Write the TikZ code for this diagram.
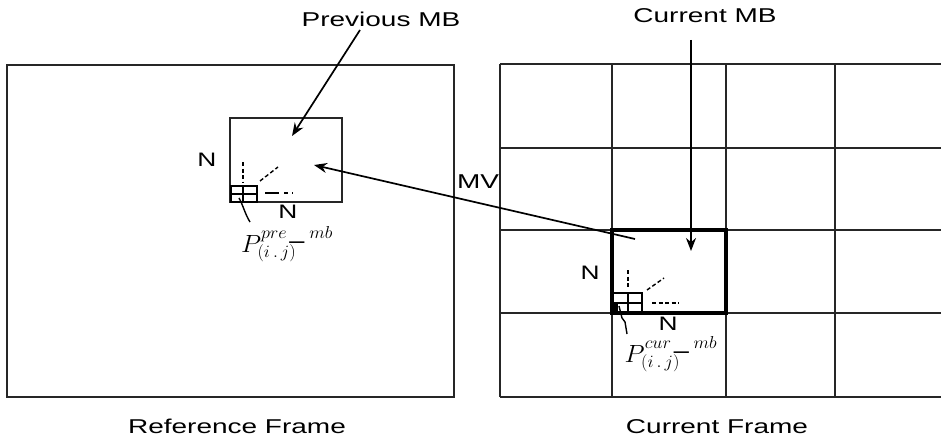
\documentclass[tikz,border=0pt]{standalone}
\usepackage{fontspec}
\setmainfont{Liberation Sans}
\usetikzlibrary{arrows.meta}
\begin{document}
\begin{tikzpicture}[x=1pt,y=-1pt,
  lbl/.style={font=\fontsize{20}{23}\selectfont, xscale=1.40, inner sep=0pt, anchor=base},
  nlbl/.style={font=\fontsize{19.5}{22}\selectfont, xscale=1.35, inner sep=0pt},
  plbl/.style={font=\fontsize{25}{28}\selectfont, inner sep=0pt, xscale=1.05},
  frame/.style={draw=black!85, line width=1.8pt},
  mbbox/.style={draw=black!85, line width=1.8pt},
  curbox/.style={draw=black, line width=3.6pt},
  pixgrid/.style={draw=black, line width=1.5pt},
  hint/.style={draw=black, line width=1.4pt, dash pattern=on 4pt off 2.5pt},
  pointer/.style={draw=black, line width=1.4pt},
  arr/.style={draw=black, line width=1.7pt, -{Stealth[length=13pt,width=10pt]}}
]
\useasboundingbox (0,0) rectangle (941,441);
\fill[white] (0,0) rectangle (941,441);

% ---------------- Reference frame ----------------
\node[frame, minimum width=447pt, minimum height=332pt, inner sep=0pt] (refframe) at (230.5,231) {};
\node[mbbox, minimum width=112pt, minimum height=84pt, inner sep=0pt] (prevmb) at (286,160) {};
% small pixel grid
\draw[pixgrid] (231,186) rectangle (257,202);
\draw[pixgrid, line width=2.2pt] (231,194) -- (257,194);
\draw[pixgrid] (243,186) -- (243,202);
% dashed hints
\draw[hint] (243,162) -- (243,183);
\draw[hint] (260,181) -- (278,167);
\draw[hint, dash pattern=on 14pt off 5pt on 4pt off 4pt] (265,193) -- (293,193);
% labels N
\node[nlbl] (prevNl) at (207,160) {N};
\node[nlbl] (prevNb) at (288,212) {N};
% pixel label
\node[plbl, anchor=base] (ppre) at (287,252) {$P^{pre\,\_\;mb}_{(i\,.\,j)}$};
\coordinate (ppretail) at (239,198);
\draw[pointer] (ppretail) .. controls (243,205) and (245,214) .. (250,222);

% ---------------- Current frame ----------------
\foreach \x/\n in {500/a,612/b,726/c,835/d}
  \draw[frame] (\x,64) -- (\x,397);
\foreach \y in {64,148,230,313,397}
  \draw[frame] (500,\y) -- (941,\y);
\node[curbox, minimum width=114pt, minimum height=83pt, inner sep=0pt] (curmb) at (669,271.5) {};
% small pixel grid
\draw[pixgrid] (613,293) rectangle (642,312);
\draw[pixgrid] (613,303) -- (642,303);
\draw[pixgrid] (628,293) -- (628,312);
\fill[black] (613,303) rectangle (618,312);
% dashed hints
\draw[hint] (628,270) -- (628,288);
\draw[hint] (647,290) -- (664,278);
\draw[hint] (652,303) -- (679,303);
% labels N
\node[nlbl] (curNl) at (590,273) {N};
\node[nlbl] (curNb) at (668,324) {N};
% pixel label
\node[plbl, anchor=base] (pcur) at (671,362) {$P^{cur\,\_\;mb}_{(i\,.\,j)}$};
\coordinate (pcurtail) at (619,306);
\draw[pointer] (pcurtail) -- (622,318) -- (625,322) -- (627,334);

% ---------------- Titles and arrows ----------------
\node[lbl] (prevlbl) at (381,27) {Previous MB};
\node[lbl] (curlbl) at (705,23) {Current MB};
\coordinate (prevstart) at (360,30);
\coordinate (prevtip) at (292,136);
\draw[arr] (prevstart) -- (prevtip);
\coordinate (curstart) at (691,40);
\coordinate (curtip) at (691,251);
\draw[arr] (curstart) -- (curtip);

% motion vector
\coordinate (mvstart) at (635,239);
\coordinate (mvtip) at (314,165);
\draw[arr] (mvstart) -- (mvtip);
\node[lbl] (mvlbl) at (478,188) {MV};

% captions
\node[lbl] (refcap) at (237,433) {Reference Frame};
\node[lbl] (curcap) at (717,433) {Current Frame};
\end{tikzpicture}
\end{document}
